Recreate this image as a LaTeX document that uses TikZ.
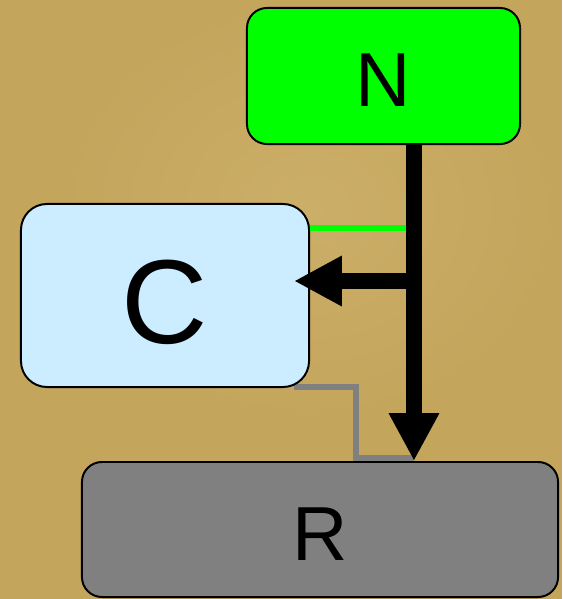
\documentclass[tikz,border=0pt]{standalone}
\usepackage{fontspec}
\setmainfont{Liberation Sans}
\usetikzlibrary{arrows.meta,calc}

\definecolor{sand}{RGB}{196,165,92}
\definecolor{sandlight}{RGB}{203,174,104}
\definecolor{cblue}{RGB}{204,236,255}
\definecolor{rgray}{RGB}{128,128,128}

\pgfdeclarelayer{back}
\pgfdeclarelayer{wires}
\pgfsetlayers{back,wires,main}

\tikzstyle{block} = [draw=black,line width=1.4pt,inner sep=0pt,text height=44pt,text depth=0pt,font=\fontsize{54.5}{60}\selectfont]
\tikzstyle{flow} = [line width=11.4pt,-{Triangle[length=34pt,width=33.5pt]}]
\tikzstyle{wire} = [line width=4.3pt]

\begin{document}
\begin{tikzpicture}[x=0.025cm,y=-0.025cm]
	\begin{pgfonlayer}{back}
	\fill[sand] (0,0) rectangle (562,599);
	\shade[inner color=sandlight,outer color=sand] (60,0) rectangle (560,420);
	\end{pgfonlayer}
	\useasboundingbox (0,0) rectangle (562,599);

	\node[block,fill=green,rounded corners=0.5cm,minimum width=6.825cm,minimum height=3.4cm] (N) at (383.5,76) {N};
	\node[block,fill=cblue,rounded corners=0.65cm,minimum width=7.2cm,minimum height=4.575cm,text height=68.5pt,font=\fontsize{85}{90}\selectfont] (C) at (165,295.5) {C};
	\node[block,fill=rgray,rounded corners=0.5cm,minimum width=11.9cm,minimum height=3.375cm] (R) at (320,529.5) {R};

	\coordinate (j) at (414,281);
	\coordinate (g) at (406,228);
	\coordinate (k) at (356,458.5);

	\draw[flow] (j |- N.south) -- (j |- R.north);
	\draw[flow] (j) -- ($(C.east |- j)+(-16,0)$);
	\draw[wire,green] (C.east |- g) -- (g);
	\begin{pgfonlayer}{wires}
	\draw[wire,rgray] ($(C.south east)+(-16,-1)$) -| (k) -- (k -| j);
	\end{pgfonlayer}
\end{tikzpicture}
\end{document}
